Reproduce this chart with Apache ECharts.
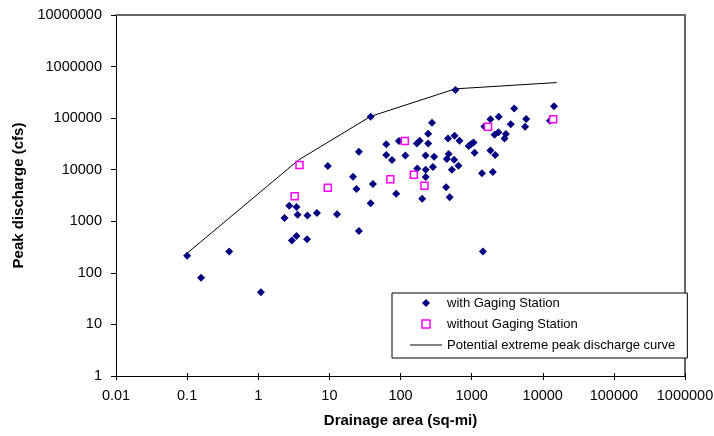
<!DOCTYPE html>
<html>
<head>
<meta charset="utf-8">
<script src="https://cdn.jsdelivr.net/npm/echarts@6/dist/echarts.min.js"></script>
<style>
html, body { margin: 0; padding: 0; background: #fff; }
#chart { width: 714px; height: 436px; }
</style>
</head>
<body>
<div id="chart"></div>
<script>
// drainage area (sq-mi) and peak discharge (cfs)
var gagedArea = [0.1, 0.157, 0.39, 1.09, 2.34, 2.73, 3.45, 3.58, 4.92, 6.69,
    2.97, 3.45, 4.86, 12.8, 9.5, 26, 26, 21.5, 24, 41,
    38, 38, 63, 63, 76, 87, 95, 117, 170, 186,
    245, 277, 245, 225, 297, 172, 226, 226, 286, 202,
    465, 576, 675, 475, 448, 568, 653, 528, 438, 492,
    592, 910, 990, 1065, 1100, 1400, 1442, 1985, 1840, 2150,
    1840, 2400, 1510, 2100, 2380, 3030, 2900, 3550, 3970, 5650,
    5850, 12600, 14400];
var gagedPeak = [215, 80, 259, 42, 1160, 2000, 1890, 1345, 1290, 1450,
    423, 520, 450, 1370, 11800, 22300, 650, 7300, 4230, 5280,
    2230, 106000, 31000, 19200, 15400, 3430, 35900, 18900, 32400, 36400,
    50000, 81000, 32400, 18900, 17800, 10600, 10000, 7200, 11300, 2750,
    40400, 45500, 36400, 20100, 16100, 15600, 11900, 10000, 4550, 2920,
    350000, 28700, 31500, 33800, 21300, 8500, 259, 9000, 23700, 19200,
    95700, 106000, 69000, 47500, 53000, 49000, 40400, 76500, 154000, 68000,
    96000, 89000, 171000];

var ungagedArea = [3.25, 3.8, 9.5, 72, 115, 154, 217, 1700, 14000];
var ungagedPeak = [3050, 12300, 4450, 6500, 36000, 8000, 4900, 68000, 95000];

var curveArea = [0.1, 3.7, 38, 590, 15700];
var curvePeak = [240, 15500, 108000, 370000, 490000];

var xTickLabels = ['0.01', '0.1', '1', '10', '100', '1000', '10000', '100000', '1000000'];
var yTickLabels = ['1', '10', '100', '1000', '10000', '100000', '1000000', '10000000'];

var seriesNames = ['with Gaging Station', 'without Gaging Station', 'Potential extreme peak discharge curve'];

var font = 'Arial, "Liberation Sans", sans-serif';

function pairs(xs, ys) {
    return xs.map(function (x, i) { return [x, ys[i]]; });
}

var chart = echarts.init(document.getElementById('chart'));

var option = {
    animation: false,
    backgroundColor: '#fff',
    grid: {
        left: 116,
        right: 29,
        top: 15,
        bottom: 60,
        outerBoundsMode: 'none'
    },
    legend: {
        orient: 'vertical',
        left: 392,
        top: 293,
        padding: [3.5, 12, 6.5, 18],
        itemWidth: 32,
        itemHeight: 8,
        itemGap: 8,
        symbolKeepAspect: true,
        backgroundColor: '#fff',
        borderColor: '#000',
        borderWidth: 1,
        borderRadius: 0,
        selectedMode: false,
        textStyle: { fontFamily: font, fontSize: 13, color: '#000' },
        data: [
            { name: seriesNames[0], icon: 'path://M4,0L8,4L4,8L0,4Z' },
            { name: seriesNames[1], icon: 'path://M0,0H8V8H0Z', itemStyle: { color: '#fff', borderColor: '#ff00ff', borderWidth: 1.5 } },
            { name: seriesNames[2], icon: 'path://M0,0H32V1H0Z' }
        ]
    },
    xAxis: [
        {
            type: 'log',
            logBase: 10,
            min: 0.01,
            max: 1000000,
            interval: 1,
            position: 'bottom',
            name: 'Drainage area (sq-mi)',
            nameLocation: 'middle',
            nameGap: 37,
            nameTextStyle: { fontFamily: font, fontSize: 15, fontWeight: 'bold', color: '#000' },
            axisLine: { lineStyle: { color: '#000', width: 1 } },
            axisTick: { length: 4, lineStyle: { color: '#000' } },
            axisLabel: {
                margin: 12,
                fontFamily: font,
                fontSize: 14.5,
                color: '#000',
                formatter: function (v) { return xTickLabels[Math.round(Math.log10(v)) + 2]; }
            },
            splitLine: { show: false },
            minorTick: { show: false }
        },
        {
            // inner half of the crossing ticks
            type: 'log',
            min: 0.01,
            max: 1000000,
            interval: 1,
            position: 'bottom',
            axisLine: { show: false },
            axisTick: { inside: true, length: 3, lineStyle: { color: '#000' } },
            axisLabel: { show: false },
            splitLine: { show: false }
        },
        {
            // plot frame, top edge
            type: 'log',
            min: 0.01,
            max: 1000000,
            position: 'top',
            axisLine: { lineStyle: { color: '#666', width: 2 } },
            axisTick: { show: false },
            axisLabel: { show: false },
            splitLine: { show: false }
        }
    ],
    yAxis: [
        {
            type: 'log',
            logBase: 10,
            min: 1,
            max: 10000000,
            interval: 1,
            name: 'Peak discharge (cfs)',
            nameLocation: 'middle',
            nameRotate: 90,
            nameGap: 81,
            nameTextStyle: { fontFamily: font, fontSize: 15, fontWeight: 'bold', color: '#000' },
            axisLine: { lineStyle: { color: '#000', width: 1 } },
            axisTick: { length: 5, lineStyle: { color: '#000' } },
            axisLabel: {
                margin: 14,
                fontFamily: font,
                fontSize: 14.5,
                color: '#000',
                formatter: function (v) { return yTickLabels[Math.round(Math.log10(v))]; }
            },
            splitLine: { show: false },
            minorTick: { show: false }
        },
        {
            // plot frame, right edge
            type: 'log',
            min: 1,
            max: 10000000,
            position: 'right',
            axisLine: { lineStyle: { color: '#666', width: 2 } },
            axisTick: { show: false },
            axisLabel: { show: false },
            splitLine: { show: false }
        }
    ],
    series: [
        {
            name: seriesNames[2],
            type: 'line',
            symbol: 'none',
            lineStyle: { color: '#000', width: 1 },
            itemStyle: { color: '#000' },
            data: pairs(curveArea, curvePeak),
            z: 1
        },
        {
            name: seriesNames[0],
            type: 'scatter',
            symbol: 'diamond',
            symbolSize: 8,
            itemStyle: { color: '#000080', opacity: 1 },
            data: pairs(gagedArea, gagedPeak),
            z: 2
        },
        {
            name: seriesNames[1],
            type: 'scatter',
            symbol: 'rect',
            symbolSize: 7,
            itemStyle: { color: '#fff', borderColor: '#ff00ff', borderWidth: 1.5, opacity: 1 },
            data: pairs(ungagedArea, ungagedPeak),
            z: 3
        }
    ]
};

chart.setOption(option);
</script>
</body>
</html>
